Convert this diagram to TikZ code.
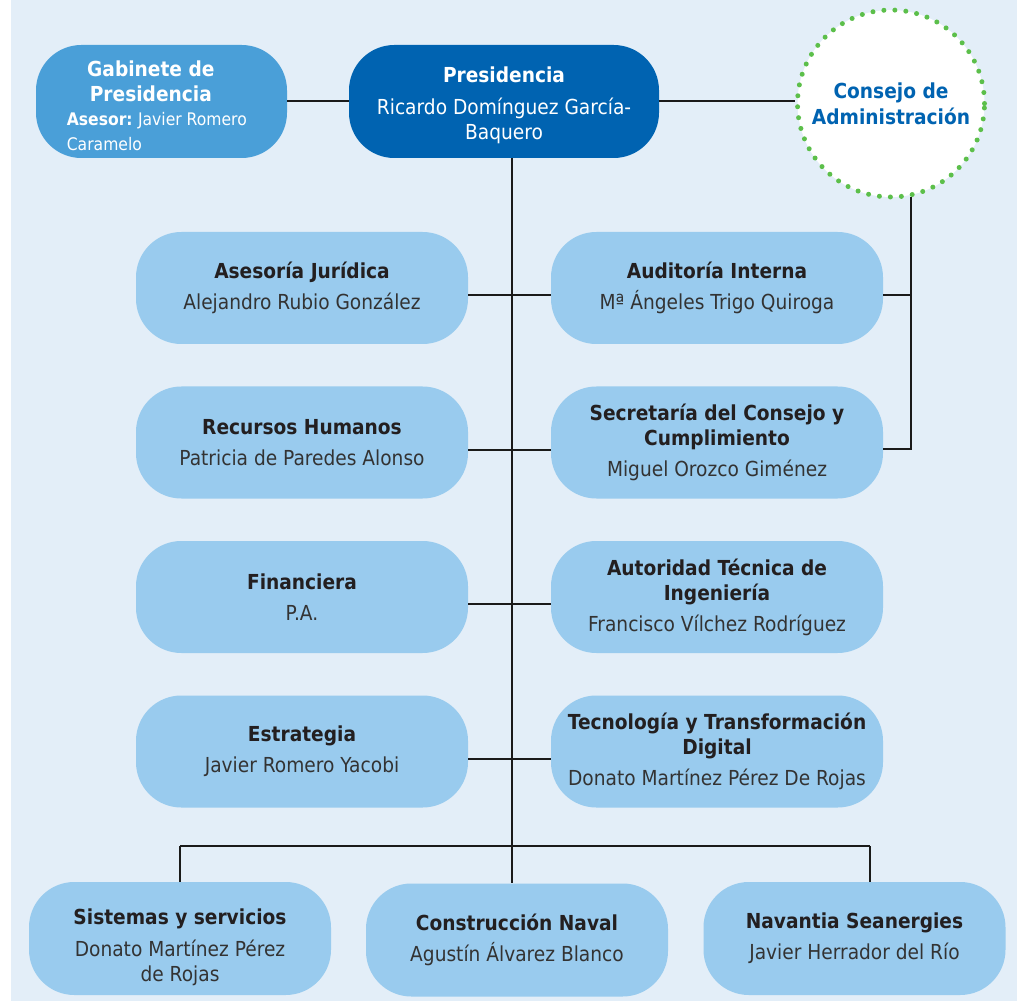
\documentclass[tikz,border=0pt]{standalone}
\usepackage{fontspec}
\setmainfont{DejaVu Sans}[FakeStretch=0.9]
\definecolor{bgc}{HTML}{E3EEF8}
\definecolor{lightbox}{HTML}{99CBEE}
\definecolor{gabc}{HTML}{4A9FD8}
\definecolor{presc}{HTML}{0063B1}
\definecolor{dotg}{HTML}{5CBF4A}
\definecolor{txt}{HTML}{231F20}
\definecolor{namec}{HTML}{333333}
\definecolor{linec}{HTML}{1A1A1A}
\newcommand{\nm}[1]{{\color{namec}#1}}
\begin{document}
\begin{tikzpicture}[x=0.75pt,y=-0.75pt,
  basefont/.style={font=\fontsize{15.5}{18.75}\selectfont},
  unitbox/.style={rectangle, rounded corners=34pt, fill=lightbox, minimum width=249pt,
    minimum height=84pt, inner sep=0pt, align=center, text=txt, basefont},
  lowbox/.style={unitbox, minimum width=226.5pt, minimum height=84.75pt},
  conn/.style={draw=linec, line width=1.5pt}]
\useasboundingbox (0,0) rectangle (1017,1005);
\fill[bgc] (11,0) rectangle (1017,1001);

% top row
\node[unitbox, fill=gabc, text=white, minimum width=188.25pt, minimum height=84.75pt,
  text width=142pt, align=flush left] (gab) at (161.5,101.5)
  {{\centering\bfseries\rule{0pt}{18pt}\mbox{Gabinete de\kern16pt}\\\mbox{Presidencia\kern16pt}\par}
   {\fontsize{13}{17.75}\selectfont\textbf{Asesor:}\hspace{4pt}Javier Romero\\Caramelo}};
\node[unitbox, fill=presc, text=white, minimum width=232.5pt, minimum height=84.75pt]
  (pres) at (504,101.5)
  {\rule{0pt}{17.3pt}\textbf{Presidencia}\\[5pt]Ricardo Domínguez García-\\Baquero};
\node[circle, minimum size=140.25pt, inner sep=0pt, fill=white, draw=dotg,
  line width=3.75pt, dash pattern=on 0pt off 8.25pt, line cap=round,
  align=center, text=presc, basefont] (cons) at (891,103.5)
  {\textbf{Consejo de}\\[1pt]\textbf{Administración}};

% middle rows
\node[unitbox] (asj) at (302,288) {\textbf{Asesoría Jurídica}\\[4.5pt]\nm{Alejandro Rubio González}};
\node[unitbox] (aud) at (717,288) {\textbf{Auditoría Interna}\\[4.5pt]\nm{Mª Ángeles Trigo Quiroga}};
\node[unitbox] (rrhh) at (302,442.5) {\textbf{Recursos Humanos}\\[4.5pt]\nm{Patricia de Paredes Alonso}};
\node[unitbox] (sec) at (717,442.5) {\textbf{Secretaría del Consejo y}\\\textbf{Cumplimiento}\\[4.5pt]\nm{Miguel Orozco Giménez}};
\node[unitbox] (fin) at (302,597) {\textbf{Financiera}\\[4.5pt]\nm{P.A.}};
\node[unitbox] (ati) at (717,597) {\textbf{Autoridad Técnica de}\\\textbf{Ingeniería}\\[4.5pt]\nm{Francisco Vílchez Rodríguez}};
\node[unitbox] (est) at (302,751.5) {\textbf{Estrategia}\\[4.5pt]\nm{Javier Romero Yacobi}};
\node[unitbox] (tec) at (717,751.5) {\textbf{Tecnología y Transformación}\\\textbf{Digital}\\[4.5pt]\nm{Donato Martínez Pérez De Rojas}};

% bottom row
\node[lowbox] (sis) at (180,938.5) {\rule{0pt}{25pt}\textbf{Sistemas y servicios}\\[5pt]\nm{Donato Martínez Pérez}\\\nm{de Rojas}};
\node[lowbox] (con) at (517,940) {\textbf{Construcción Naval}\\[4.5pt]\nm{Agustín Álvarez Blanco}};
\node[lowbox] (nav) at (854.5,938.5) {\textbf{Navantia Seanergies}\\[4.5pt]\nm{Javier Herrador del Río}};

% connectors
\draw[conn] (gab.east) -- (pres.west);
\draw[conn] (pres.east) -- (pres.east -| cons.west);
\coordinate (spine) at ([xshift=6pt]pres.south);
\draw[conn] (spine) -- (spine |- con.north);
\draw[conn] ([yshift=-5.25pt]asj.east) -- ([yshift=-5.25pt]aud.west);
\draw[conn] ([yshift=-5.25pt]rrhh.east) -- ([yshift=-5.25pt]sec.west);
\draw[conn] ([yshift=-5.25pt]fin.east) -- ([yshift=-5.25pt]ati.west);
\draw[conn] ([yshift=-5.25pt]est.east) -- ([yshift=-5.25pt]tec.west);
\coordinate (audR) at ([yshift=-5.25pt]aud.east);
\coordinate (secR) at ([yshift=-4.5pt]sec.east);
\draw[conn] (cons.-78) |- (secR);
\draw[conn] (audR) -- (audR -| cons.-78);
\coordinate (busL) at (180,846);
\coordinate (busR) at (870,846);
\draw[conn] (busL) -- (busR);
\draw[conn] (busL) -- (busL |- sis.north);
\draw[conn] (busR) -- (busR |- nav.north);
\end{tikzpicture}
\end{document}
